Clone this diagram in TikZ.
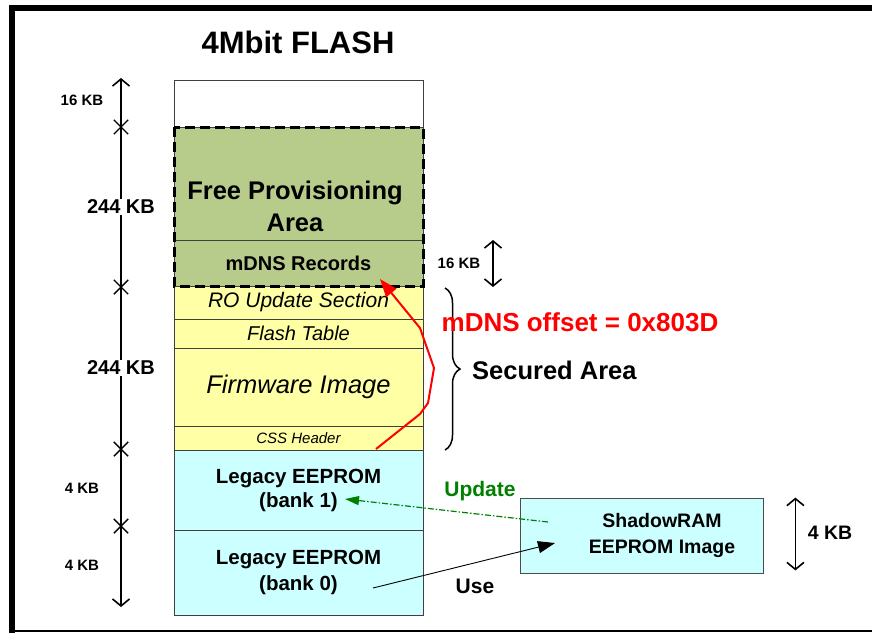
\documentclass[tikz,border=0pt]{standalone}
\usepackage{fontspec}
\setmainfont{Liberation Sans}
\usetikzlibrary{arrows.meta,positioning,calc,shapes.misc,decorations.pathreplacing}
\definecolor{provgreen}{RGB}{183,203,139}
\definecolor{secyellow}{RGB}{255,255,166}
\definecolor{eecyan}{RGB}{204,255,255}
\definecolor{updgreen}{RGB}{0,128,0}
\newcommand{\fsz}[2]{\fontsize{#1}{#2}\selectfont}

\begin{document}
\begin{tikzpicture}[x=1pt,y=-1pt,
  mem/.style={draw=black!75,line width=0.8pt,minimum width=249pt,inner sep=0pt,outer sep=0pt,align=center},
  txt/.style={align=center,inner sep=0pt},
  kb/.style={inner sep=1pt,font=\bfseries\fsz{15}{17}},
  xmark/.style={cross out,draw,line width=1.4pt,minimum size=13pt,inner sep=0pt},
  dimarr/.style={line width=1.6pt,{Straight Barb[length=7pt,width=17pt]}-{Straight Barb[length=7pt,width=17pt]}}]
  \useasboundingbox (0,0) rectangle (872,633);
  % frame
  \draw[line width=6pt] (12,633) -- (12,8) -- (872,8);
  \draw[line width=1.2pt] (12,631) -- (872,631);
  \node[txt,font=\bfseries\fsz{31}{36}] (title) at (298,42) {4Mbit FLASH};
  % flash map
  \node[mem,fill=white,minimum height=47pt] (spare) at (298.5,103.5) {};
  \node[mem,fill=provgreen,minimum height=113pt,below=0pt of spare] (prov) {};
  \node[mem,fill=provgreen,minimum height=46pt,below=0pt of prov,font=\bfseries\fsz{20}{23}] (mdns) {mDNS Records};
  \node[mem,fill=secyellow,minimum height=33pt,below=0pt of mdns,font=\itshape\fsz{21}{24}] (ro) {RO Update Section};
  \node[mem,fill=secyellow,minimum height=29pt,below=0pt of ro,font=\itshape\fsz{20}{23}] (ft) {Flash Table};
  \node[mem,fill=secyellow,minimum height=78pt,below=0pt of ft,font=\itshape\fsz{25.5}{29}] (fw) {Firmware Image};
  \node[mem,fill=secyellow,minimum height=24pt,below=0pt of fw,font=\itshape\fsz{15}{17}] (css) {CSS Header};
  \node[mem,fill=eecyan,minimum height=80pt,below=0pt of css,font=\bfseries\fsz{20.5}{24}] (bank1) {Legacy EEPROM\\(bank 1)};
  \node[mem,fill=eecyan,minimum height=85pt,below=0pt of bank1,font=\bfseries\fsz{20.5}{26}] (bank0) {Legacy EEPROM\\(bank 0)};
  \node[txt,font=\bfseries\fsz{25.5}{32}] (provtxt) at (295,206) {Free Provisioning\\Area};
  \draw[line width=3pt,dash pattern=on 10pt off 5pt] (prov.north west) rectangle (mdns.south east);
  % size axis
  \coordinate (axtop) at (121,78);
  \coordinate (axbot) at (121,607);
  \draw[dimarr] (axtop) -- (axbot);
  \foreach \y [count=\i] in {127,287,449,526}
    \node[xmark] (x\i) at (121,\y) {};
  \node[kb] (kb16) at (82,100) {16 KB};
  \node[kb,fill=white,font=\bfseries\fsz{20}{23}] (kbprov) at (121,207) {244 KB};
  \node[kb,fill=white,font=\bfseries\fsz{20}{23}] (kbsec) at (121,368) {244 KB};
  \node[kb] (kbb1) at (82,488) {4 KB};
  \node[kb] (kbb0) at (82,565) {4 KB};
  % mDNS size and secured area
  \draw[dimarr] ($(mdns.north east)+(70,0)$) -- ($(mdns.south east)+(70,1)$);
  \node[kb] (kbmdns) at (459,263) {16 KB};
  \draw[decorate,decoration={brace,amplitude=15pt},line width=1.5pt] (445,288) -- (445,450);
  \node[txt,anchor=west,font=\bfseries\fsz{25.5}{29}] (secured) at (472,370) {Secured Area};
  \node[txt,text=red,font=\bfseries\fsz{26}{30}] (offset) at (580,322) {mDNS offset = 0x803D};
  \coordinate (offs) at (376,449);
  \coordinate (offe) at (380,279);
  \draw[red,line width=2pt,line join=round,-{Triangle[length=18pt,width=13pt]}]
    (offs) -- (420,414) -- (428,403) -- (434,368) -- (420,328) -- (offe);
  % shadow RAM
  \node[draw=black!70,fill=eecyan,line width=0.8pt,minimum width=243pt,minimum height=75pt] (shadow) at (641.5,535.5) {};
  \node[txt,font=\bfseries\fsz{19.5}{26}] (shadowtxt) at (662,535) {ShadowRAM\\EEPROM Image};
  \draw[dimarr] ($(shadow.north east)+(32,0)$) -- ($(shadow.south east)+(32,-3)$);
  \node[kb,font=\bfseries\fsz{19.5}{22}] (kbshadow) at (830,533) {4 KB};
  \coordinate (upds) at (548,522);
  \coordinate (updt) at (345,499);
  \draw[updgreen,line width=1.2pt,dash pattern=on 6pt off 2pt on 1.5pt off 2pt,-{Triangle[length=14pt,width=9pt]}] (upds) -- (updt);
  \node[txt,text=updgreen,font=\bfseries\fsz{21}{24}] (update) at (480,491) {Update};
  \coordinate (uses) at (373,588);
  \coordinate (uset) at (555,543);
  \draw[line width=0.9pt,-{Triangle[length=17pt,width=12pt]}] (uses) -- (uset);
  \node[txt,font=\bfseries\fsz{21}{24}] (use) at (475,586) {Use};
\end{tikzpicture}
\end{document}
